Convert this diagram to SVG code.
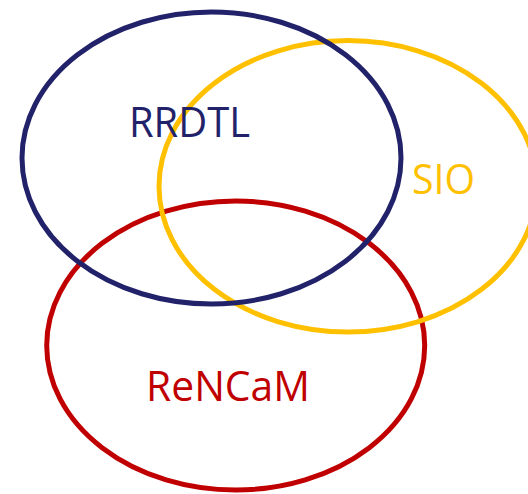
<svg xmlns="http://www.w3.org/2000/svg" width="528" height="494" viewBox="0 0 528 494">
<style>
.c{fill:none;stroke-width:5}
.t{font-family:"Open Sans","Noto Sans",sans-serif;font-size:42px}
</style>
<rect width="528" height="494" fill="#ffffff"/>
<g id="rencam">
<ellipse class="c" cx="235.7" cy="345.5" rx="189" ry="144.5" stroke="#C00000"/>
<text class="t" x="146" y="401" fill="#C00000" textLength="164" lengthAdjust="spacingAndGlyphs">ReNCaM</text>
</g>
<g id="sio">
<ellipse class="c" cx="348" cy="186.3" rx="189" ry="145.7" stroke="#FFC000"/>
<text class="t" x="412" y="194" fill="#FFC000" textLength="63" lengthAdjust="spacingAndGlyphs">SIO</text>
</g>
<g id="rrdtl">
<ellipse class="c" cx="211.5" cy="158" rx="189.5" ry="146" stroke="#22226A"/>
<text class="t" x="129" y="137" fill="#22226A" textLength="121" lengthAdjust="spacingAndGlyphs">RRDTL</text>
</g>
<g id="connectors"/>
</svg>
